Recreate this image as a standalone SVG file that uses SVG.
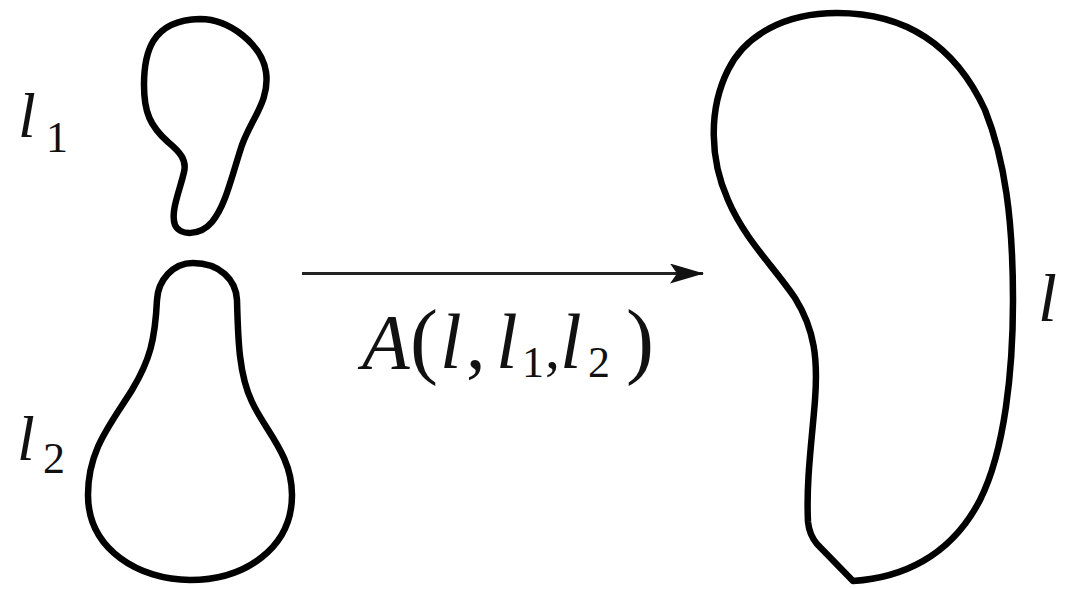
<svg xmlns="http://www.w3.org/2000/svg" width="1068" height="589" viewBox="0 0 1068 589">
<style>
.curve{fill:none;stroke:#000;stroke-width:6.5;stroke-linejoin:round}
.it{font-family:"Liberation Serif",serif;font-style:italic;fill:#111}
.rm{font-family:"Liberation Serif",serif;font-style:normal;fill:#111}
.conn{stroke:#222;stroke-width:3;fill:none}
</style>
<defs>
<marker id="ah" viewBox="0 0 34 20" refX="33" refY="10" markerWidth="34" markerHeight="20" markerUnits="userSpaceOnUse" orient="auto">
<path d="M0,0 L34,10 L0,20 L7,10 Z" fill="#111"/>
</marker>
</defs>
<rect width="1068" height="589" fill="#fff"/>
<g id="l1">
<path class="curve" d="M200,19 C230,19 262,45 266,72 C270,100 252,118 242,145 C232,175 226,205 212,222 C200,236 180,236 175,225 C170,212 180,190 184,172 C187,160 180,152 168,142 C150,126 144,112 144,85 C144,55 150,20 200,19 Z"/>
<text class="it" x="18" y="137" font-size="64">l</text>
<text class="rm" x="46" y="152" font-size="44">1</text>
</g>
<g id="l2">
<path class="curve" d="M193,263 C173,263 158,280 157,300 C155,340 150,360 132,390 C110,425 88,450 88,495 C88,550 140,580 190,580 C245,580 292,548 292,495 C292,455 266,432 252,402 C239,375 238,340 237,300 C236,280 220,263 193,263 Z"/>
<text class="it" x="17" y="460" font-size="64">l</text>
<text class="rm" x="43" y="473" font-size="44">2</text>
</g>
<g id="l">
<path class="curve" d="M837,13 C785,13 745,35 728,70 C708,110 710,160 728,200 C745,240 775,268 795,298 C815,330 818,360 815,400 C812,440 806,480 808,522 C809,532 812,538 817,544 L853,581 C900,578 950,558 980,500 C1005,450 1013,370 1013,300 C1013,220 1005,160 985,110 C955,45 905,13 837,13 Z"/>
<text class="it" x="1038" y="321" font-size="68">l</text>
</g>
<g id="connectors">
<line class="conn" x1="302" y1="273.5" x2="703" y2="273.5" marker-end="url(#ah)"/>
<text x="366" y="368" font-size="78" class="it"><tspan x="362">A</tspan><tspan class="rm" x="410" font-size="84">(</tspan><tspan x="440">l</tspan><tspan class="rm" x="466">,</tspan><tspan x="496">l</tspan><tspan class="rm" x="522" y="377" font-size="44">1</tspan><tspan class="rm" x="545" y="368" font-size="60">,</tspan><tspan x="560">l</tspan><tspan class="rm" x="588" y="377" font-size="44">2</tspan><tspan class="rm" x="626" y="368" font-size="84">)</tspan></text>
</g>
</svg>
